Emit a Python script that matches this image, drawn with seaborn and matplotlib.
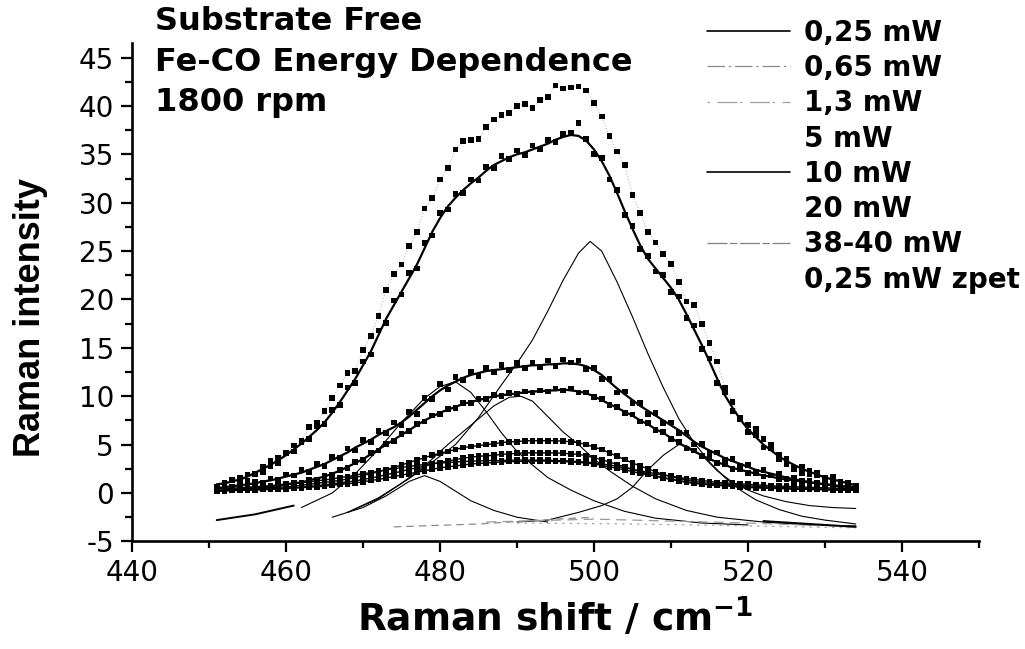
import matplotlib
matplotlib.use("Agg")
import matplotlib.pyplot as plt
import seaborn as sns
import pandas as pd
from matplotlib.lines import Line2D
from matplotlib.ticker import MultipleLocator

# ---------------- data ----------------
SHIFT = list(range(451, 535))

# measured points (square markers)
P_38_40 = [0.5, 1.0, 1.4, 1.6, 1.3, 1.9, 2.2, 3.3, 3.6, 4.2, 4.9, 5.3, 6.8, 7.3, 8.5, 9.8, 11.1, 12.4, 12.6, 14.8,
           16.2, 18.3, 21.0, 22.6, 23.6, 25.5, 27.0, 29.4, 30.5, 32.4, 33.6, 35.5, 36.4, 36.5, 36.6, 37.8, 38.6, 39.1, 39.3, 40.0,
           40.2, 39.8, 40.6, 40.9, 42.1, 41.8, 41.9, 42.0, 41.6, 40.3, 38.9, 36.9, 35.3, 33.9, 30.8, 28.9, 27.0, 25.9, 24.7, 23.7,
           21.8, 19.8, 19.4, 17.5, 15.5, 13.6, 10.9, 9.4, 7.6, 7.0, 6.6, 5.6, 5.0, 3.9, 3.0, 2.5, 2.1, 2.3, 1.8, 1.6,
           1.7, 1.2, 1.0, 0.4]
P_20 = [0.6, 1.1, 1.3, 1.2, 1.9, 2.0, 2.7, 2.8, 3.1, 4.1, 4.3, 5.4, 5.6, 6.9, 7.1, 8.6, 9.1, 10.9, 11.4, 13.6,
        14.3, 16.8, 17.6, 19.9, 20.5, 22.7, 23.2, 25.8, 26.6, 28.9, 29.3, 30.9, 31.0, 32.4, 32.3, 33.7, 33.6, 34.8, 34.5, 35.4,
        34.9, 35.9, 35.5, 36.5, 36.3, 37.1, 37.2, 38.2, 36.6, 35.0, 34.6, 32.4, 31.3, 28.7, 27.6, 25.2, 24.5, 22.9, 22.5, 20.8,
        20.3, 18.1, 17.3, 14.9, 13.9, 11.4, 10.4, 8.5, 7.8, 6.3, 6.0, 4.7, 4.6, 3.5, 3.5, 2.6, 2.7, 2.0, 2.1, 1.4,
        1.5, 1.0, 1.1, 0.6]
P_10 = [0.4, 0.7, 0.6, 1.0, 0.8, 1.2, 1.1, 1.5, 1.4, 1.9, 1.8, 2.4, 2.2, 3.0, 2.8, 3.7, 3.6, 4.6, 4.4, 5.5,
        5.3, 6.4, 6.2, 7.3, 7.0, 8.4, 8.2, 9.8, 9.7, 11.3, 10.7, 12.0, 11.7, 12.5, 12.1, 12.9, 12.5, 13.2, 12.7, 13.4,
        12.9, 13.5, 13.0, 13.7, 13.1, 13.8, 13.5, 13.7, 12.8, 12.9, 11.8, 11.8, 10.4, 10.5, 9.3, 9.3, 8.2, 8.3, 7.2, 7.3,
        6.2, 6.2, 5.0, 5.1, 4.2, 4.2, 3.4, 3.5, 2.8, 2.9, 2.2, 2.4, 1.8, 2.0, 1.4, 1.6, 1.1, 1.3, 0.9, 1.1,
        0.7, 0.9, 0.5, 0.7]
P_5 = [0.3, 0.2, 0.4, 0.3, 0.6, 0.5, 0.7, 0.6, 0.9, 0.8, 1.1, 1.0, 1.4, 1.4, 1.8, 1.9, 2.4, 2.6, 3.2, 3.4,
       4.1, 4.4, 5.1, 5.4, 6.1, 6.4, 7.1, 7.4, 8.0, 8.2, 8.7, 8.8, 9.3, 9.3, 9.7, 9.7, 10.1, 10.0, 10.3, 10.2,
       10.5, 10.4, 10.6, 10.5, 10.8, 10.6, 10.8, 10.4, 10.4, 9.9, 9.7, 9.1, 8.9, 8.3, 8.1, 7.4, 7.2, 6.5, 6.3, 5.6,
       5.3, 4.6, 4.4, 3.8, 3.6, 3.1, 3.0, 2.5, 2.5, 2.1, 2.1, 1.7, 1.8, 1.4, 1.5, 1.2, 1.3, 1.0, 1.1, 0.8,
       0.9, 0.6, 0.7, 0.5]
P_1_3 = [0.3, 0.3, 0.35, 0.4, 0.4, 0.45, 0.5, 0.55, 0.6, 0.65, 0.7, 0.8, 0.9, 1.0, 1.1, 1.2, 1.3, 1.45, 1.6, 1.8,
         2.0, 2.2, 2.4, 2.65, 2.9, 3.15, 3.4, 3.65, 3.9, 4.1, 4.3, 4.5, 4.7, 4.8, 4.9, 5.0, 5.1, 5.2, 5.3, 5.3,
         5.4, 5.4, 5.4, 5.4, 5.4, 5.35, 5.3, 5.2, 5.0, 4.75, 4.5, 4.15, 3.8, 3.45, 3.1, 2.8, 2.5, 2.2, 1.9, 1.7,
         1.5, 1.35, 1.2, 1.1, 1.0, 0.95, 0.9, 0.85, 0.8, 0.75, 0.7, 0.65, 0.6, 0.6, 0.55, 0.5, 0.5, 0.45, 0.45, 0.4,
         0.4, 0.4, 0.4, 0.4]
P_0_65 = [0.25, 0.25, 0.3, 0.3, 0.35, 0.35, 0.4, 0.45, 0.5, 0.5, 0.55, 0.6, 0.7, 0.75, 0.85, 0.95, 1.05, 1.15, 1.25, 1.4,
          1.55, 1.7, 1.9, 2.05, 2.25, 2.45, 2.6, 2.8, 3.0, 3.15, 3.3, 3.45, 3.6, 3.7, 3.8, 3.85, 3.9, 4.0, 4.05, 4.1,
          4.15, 4.15, 4.15, 4.15, 4.15, 4.1, 4.05, 4.0, 3.85, 3.65, 3.45, 3.2, 2.95, 2.7, 2.45, 2.2, 1.95, 1.75, 1.55, 1.4,
          1.25, 1.1, 1.0, 0.9, 0.85, 0.8, 0.75, 0.7, 0.65, 0.6, 0.55, 0.55, 0.5, 0.5, 0.45, 0.45, 0.4, 0.4, 0.4, 0.35,
          0.35, 0.35, 0.3, 0.3]
P_0_25 = [0.2, 0.2, 0.25, 0.25, 0.3, 0.3, 0.35, 0.35, 0.4, 0.45, 0.5, 0.55, 0.6, 0.65, 0.7, 0.8, 0.9, 0.95, 1.05, 1.15,
          1.3, 1.4, 1.55, 1.7, 1.85, 2.0, 2.15, 2.3, 2.45, 2.6, 2.7, 2.8, 2.9, 3.0, 3.05, 3.1, 3.15, 3.2, 3.25, 3.25,
          3.3, 3.3, 3.3, 3.3, 3.25, 3.25, 3.2, 3.15, 3.1, 3.0, 2.85, 2.7, 2.55, 2.4, 2.2, 2.05, 1.9, 1.75, 1.6, 1.45,
          1.3, 1.15, 1.05, 0.95, 0.85, 0.8, 0.75, 0.7, 0.65, 0.6, 0.55, 0.5, 0.5, 0.45, 0.45, 0.4, 0.4, 0.35, 0.35, 0.35,
          0.3, 0.3, 0.3, 0.3]
P_ZPET = [0.5, 0.45, 0.5, 0.55, 0.6, 0.65, 0.7, 0.75, 0.8, 0.9, 0.95, 1.05, 1.15, 1.25, 1.35, 1.45, 1.6, 1.7, 1.85, 2.0,
          2.1, 2.25, 2.4, 2.5, 2.65, 2.75, 2.85, 2.95, 3.05, 3.1, 3.15, 3.2, 3.25, 3.3, 3.3, 3.35, 3.35, 3.35, 3.4, 3.4,
          3.4, 3.4, 3.4, 3.4, 3.35, 3.35, 3.3, 3.25, 3.2, 3.1, 3.0, 2.9, 2.75, 2.6, 2.45, 2.3, 2.15, 2.0, 1.85, 1.75,
          1.6, 1.5, 1.4, 1.3, 1.2, 1.1, 1.05, 1.0, 0.95, 0.9, 0.85, 0.8, 0.75, 0.7, 0.7, 0.65, 0.6, 0.6, 0.55, 0.55,
          0.5, 0.5, 0.45, 0.45]

# fitted envelopes (solid lines)
F_20 = [0.9, 1.0, 1.2, 1.4, 1.7, 2.1, 2.5, 2.9, 3.4, 3.9, 4.5, 5.1, 5.8, 6.5, 7.3, 8.3, 9.4, 10.6, 11.8, 13.2,
        14.6, 16.3, 18.0, 19.4, 20.8, 22.2, 23.6, 25.3, 27.0, 28.4, 29.6, 30.5, 31.3, 32.0, 32.6, 33.3, 33.9, 34.3, 34.7, 35.0,
        35.2, 35.5, 35.8, 36.1, 36.5, 36.8, 37.0, 36.9, 36.4, 35.5, 34.3, 32.8, 31.0, 29.1, 27.3, 25.6, 24.2, 23.2, 22.2, 21.2,
        20.0, 18.5, 16.9, 15.3, 13.6, 11.8, 10.1, 8.8, 7.6, 6.6, 5.8, 5.0, 4.4, 3.8, 3.3, 2.9, 2.5, 2.2, 1.9, 1.6,
        1.4, 1.2, 1.0, 0.8]
F_10 = [0.5, 0.6, 0.7, 0.8, 0.9, 1.0, 1.2, 1.3, 1.5, 1.7, 1.9, 2.1, 2.4, 2.7, 3.0, 3.4, 3.8, 4.2, 4.7, 5.1,
        5.5, 6.0, 6.4, 6.8, 7.3, 7.9, 8.6, 9.3, 10.0, 10.6, 11.1, 11.5, 11.9, 12.2, 12.4, 12.6, 12.7, 12.8, 12.9, 13.0,
        13.1, 13.2, 13.2, 13.3, 13.3, 13.4, 13.4, 13.3, 13.1, 12.7, 12.2, 11.5, 10.8, 10.2, 9.6, 9.0, 8.5, 8.0, 7.5, 7.0,
        6.5, 5.9, 5.3, 4.8, 4.4, 4.0, 3.6, 3.3, 3.0, 2.7, 2.4, 2.2, 2.0, 1.8, 1.6, 1.4, 1.3, 1.1, 1.0, 0.9,
        0.8, 0.7, 0.65, 0.6]
F_5 = [0.2, 0.3, 0.35, 0.4, 0.5, 0.55, 0.6, 0.7, 0.8, 0.9, 1.0, 1.1, 1.3, 1.5, 1.7, 2.0, 2.3, 2.7, 3.1, 3.5,
       4.0, 4.5, 5.0, 5.5, 6.0, 6.5, 7.0, 7.5, 7.9, 8.3, 8.6, 8.9, 9.2, 9.4, 9.6, 9.8, 10.0, 10.1, 10.2, 10.3,
       10.4, 10.5, 10.5, 10.6, 10.6, 10.7, 10.6, 10.5, 10.3, 10.0, 9.6, 9.2, 8.8, 8.4, 8.0, 7.5, 7.1, 6.6, 6.2, 5.7,
       5.2, 4.7, 4.3, 3.9, 3.5, 3.2, 2.9, 2.6, 2.4, 2.2, 2.0, 1.8, 1.7, 1.5, 1.4, 1.3, 1.2, 1.1, 1.0, 0.9,
       0.8, 0.7, 0.65, 0.6]

# fitted peak components (thin lines)
C1_X = [468, 472, 476, 479, 482, 485, 488, 490, 492, 494, 496, 498, 499.5, 501, 503, 505, 507, 509, 511, 513, 515, 517, 519, 521, 524, 527, 530, 534]
C1_Y = [-2.0, -0.5, 1.5, 3.2, 5.0, 7.8, 11.2, 13.4, 15.8, 18.8, 22.0, 24.8, 26.0, 25.0, 21.8, 18.2, 14.4, 10.9, 7.7, 5.2, 3.2, 1.6, 0.3, -0.7, -1.7, -2.4, -2.8, -3.2]
C2_X = [462, 466, 469, 472, 475, 478, 480, 482, 484, 486, 488, 490, 492, 494, 497, 500, 504, 508, 514, 520]
C2_Y = [-1.5, 0.0, 2.0, 4.5, 7.3, 9.8, 11.0, 11.5, 10.4, 8.4, 6.2, 4.3, 2.9, 1.6, 0.3, -0.8, -1.9, -2.6, -3.1, -3.3]
C3_X = [468, 472, 475, 478, 481, 484, 487, 489, 490.5, 492, 494, 496, 498, 500, 502, 505, 508, 512, 516, 522, 528, 534]
C3_Y = [-2.0, -0.6, 1.0, 2.8, 5.0, 7.0, 9.0, 9.9, 10.0, 9.5, 7.9, 6.3, 5.0, 3.5, 2.3, 0.7, -0.6, -1.8, -2.5, -3.0, -3.3, -3.4]
C4_X = [490, 494, 498, 501, 503, 505, 507, 509, 511, 512, 514, 516, 518, 520, 522, 525, 528, 531, 534]
C4_Y = [-3.0, -2.8, -2.0, -1.3, -0.6, 0.6, 2.4, 3.9, 5.0, 4.9, 3.9, 2.3, 1.1, 0.3, -0.3, -0.9, -1.3, -1.5, -1.6]
C5_X = [466, 470, 473, 476, 478, 480, 482, 484, 487, 490, 494]
C5_Y = [-2.5, -1.5, -0.3, 1.2, 1.8, 1.2, 0.2, -0.8, -1.8, -2.5, -3.0]

# baselines near -3
B1_X = [474, 485, 495, 500]
B1_Y = [-3.5, -3.2, -2.7, -2.5]
B2_X = [486, 500, 510, 520, 534]
B2_Y = [-3.0, -2.7, -2.9, -3.1, -3.5]
B3_X = [490, 505, 520, 534]
B3_Y = [-3.1, -3.2, -3.4, -3.6]
B4_X = [451, 456, 461]
B4_Y = [-2.8, -2.2, -1.3]
B5_X = [522, 528, 534]
B5_Y = [-2.9, -3.2, -3.5]

LABELS = ["0,25 mW", "0,65 mW", "1,3 mW", "5 mW", "10 mW", "20 mW", "38-40 mW", "0,25 mW zpet"]
POINTS = [P_0_25, P_0_65, P_1_3, P_5, P_10, P_20, P_38_40, P_ZPET]
Y_TICKS = [-5, 0, 5, 10, 15, 20, 25, 30, 35, 40, 45]
X_TICKS = [440, 460, 480, 500, 520, 540]

# ---------------- figure ----------------
sns.set_style("ticks")
plt.rcParams["font.family"] = ["DejaVu Sans"]
plt.rcParams.update({"text.color": "black", "axes.labelcolor": "black",
                     "xtick.color": "black", "ytick.color": "black",
                     "axes.edgecolor": "black"})

fig = plt.figure(figsize=(10.25, 6.49), dpi=100)
ax = fig.add_axes([0.1288, 0.1658, 0.8263, 0.7679])

df = pd.DataFrame({
    "shift": SHIFT * len(POINTS),
    "intensity": sum(POINTS, []),
    "series": sum([[lab] * len(SHIFT) for lab in LABELS], []),
})

# faint guide through the top series
sns.lineplot(x=SHIFT, y=P_38_40, color="#bdbdbd", lw=0.8, ls=":", ax=ax,
             sort=False, estimator=None, legend=False)

sns.scatterplot(data=df, x="shift", y="intensity", hue="series",
                palette={lab: "black" for lab in LABELS}, marker="s", s=17,
                linewidth=0, legend=False, ax=ax, zorder=3)

for ys in (P_0_25, P_0_65, P_1_3, P_ZPET):
    sns.lineplot(x=SHIFT, y=ys, color="black", lw=1.0, ax=ax,
                 sort=False, estimator=None, legend=False)
for ys in (F_5, F_10, F_20):
    sns.lineplot(x=SHIFT, y=ys, color="black", lw=1.6, ax=ax,
                 sort=False, estimator=None, legend=False)

for cx, cy in ((C1_X, C1_Y), (C2_X, C2_Y), (C3_X, C3_Y), (C4_X, C4_Y), (C5_X, C5_Y)):
    sns.lineplot(x=cx, y=cy, color="black", lw=0.8, ax=ax,
                 sort=False, estimator=None, legend=False)

sns.lineplot(x=B1_X, y=B1_Y, color="#8c8c8c", lw=0.9, ls=(0, (6, 4)), ax=ax, sort=False, estimator=None, legend=False)
sns.lineplot(x=B2_X, y=B2_Y, color="#9a9a9a", lw=0.9, ls=(0, (8, 5)), ax=ax, sort=False, estimator=None, legend=False)
sns.lineplot(x=B3_X, y=B3_Y, color="#a8a8a8", lw=0.9, ls=(0, (2, 4)), ax=ax, sort=False, estimator=None, legend=False)
sns.lineplot(x=B4_X, y=B4_Y, color="black", lw=1.4, ax=ax, sort=False, estimator=None, legend=False)
sns.lineplot(x=B5_X, y=B5_Y, color="black", lw=1.4, ax=ax, sort=False, estimator=None, legend=False)

# axes styling
ax.set_xlim(440, 550)
ax.set_ylim(-5, 46.5)
ax.set_xticks(X_TICKS)
ax.set_yticks(Y_TICKS)
ax.xaxis.set_minor_locator(MultipleLocator(10))
ax.yaxis.set_minor_locator(MultipleLocator(2.5))
ax.tick_params(which="major", direction="out", length=8, width=1.6, labelsize=20, pad=5, color="black")
ax.tick_params(which="minor", direction="out", length=5, width=1.6, color="black")
ax.set_xticklabels([str(v) for v in X_TICKS])
ax.set_yticklabels([str(v) for v in Y_TICKS])
for side in ("top", "right"):
    ax.spines[side].set_visible(False)
for side in ("left", "bottom"):
    ax.spines[side].set_linewidth(1.9)
    ax.spines[side].set_color("black")

ax.set_xlabel(r"Raman shift / cm$^{\mathbf{-1}}$", fontsize=27, fontweight="bold", va="center")
ax.xaxis.set_label_coords(0.5, -0.152)
ax.set_ylabel("Raman intensity", fontsize=26, fontweight="bold", va="center",
              family=["Liberation Sans", "DejaVu Sans"])
ax.yaxis.set_label_coords(-0.12, 0.45)

# title block
for txt, ypx in (("Substrate Free", 21), ("Fe-CO Energy Dependence", 62), ("1800 rpm", 103)):
    fig.text(155 / 1025, 1 - ypx / 649, txt, fontsize=23, fontweight="bold", va="center", ha="left")

# legend
handles = [
    Line2D([], [], color="black", lw=1.2),
    Line2D([], [], color="#8a8a8a", lw=0.9, ls=(0, (14, 3, 2, 3))),
    Line2D([], [], color="#a0a0a0", lw=0.9, ls=(0, (2, 6, 16, 2))),
    Line2D([], [], color="none"),
    Line2D([], [], color="black", lw=1.2),
    Line2D([], [], color="none"),
    Line2D([], [], color="#808080", lw=0.9, ls=(0, (16, 2, 6, 2))),
    Line2D([], [], color="none"),
]
leg = ax.legend(handles, LABELS, loc="upper left", bbox_to_anchor=(707 / 1025, 1 - 19 / 649),
                bbox_transform=fig.transFigure, frameon=False, borderpad=0, borderaxespad=0,
                handlelength=3.0, handletextpad=0.5, labelspacing=0.26,
                prop={"family": "DejaVu Sans", "weight": "bold", "size": 20})

fig.savefig("out.png", dpi=100)
